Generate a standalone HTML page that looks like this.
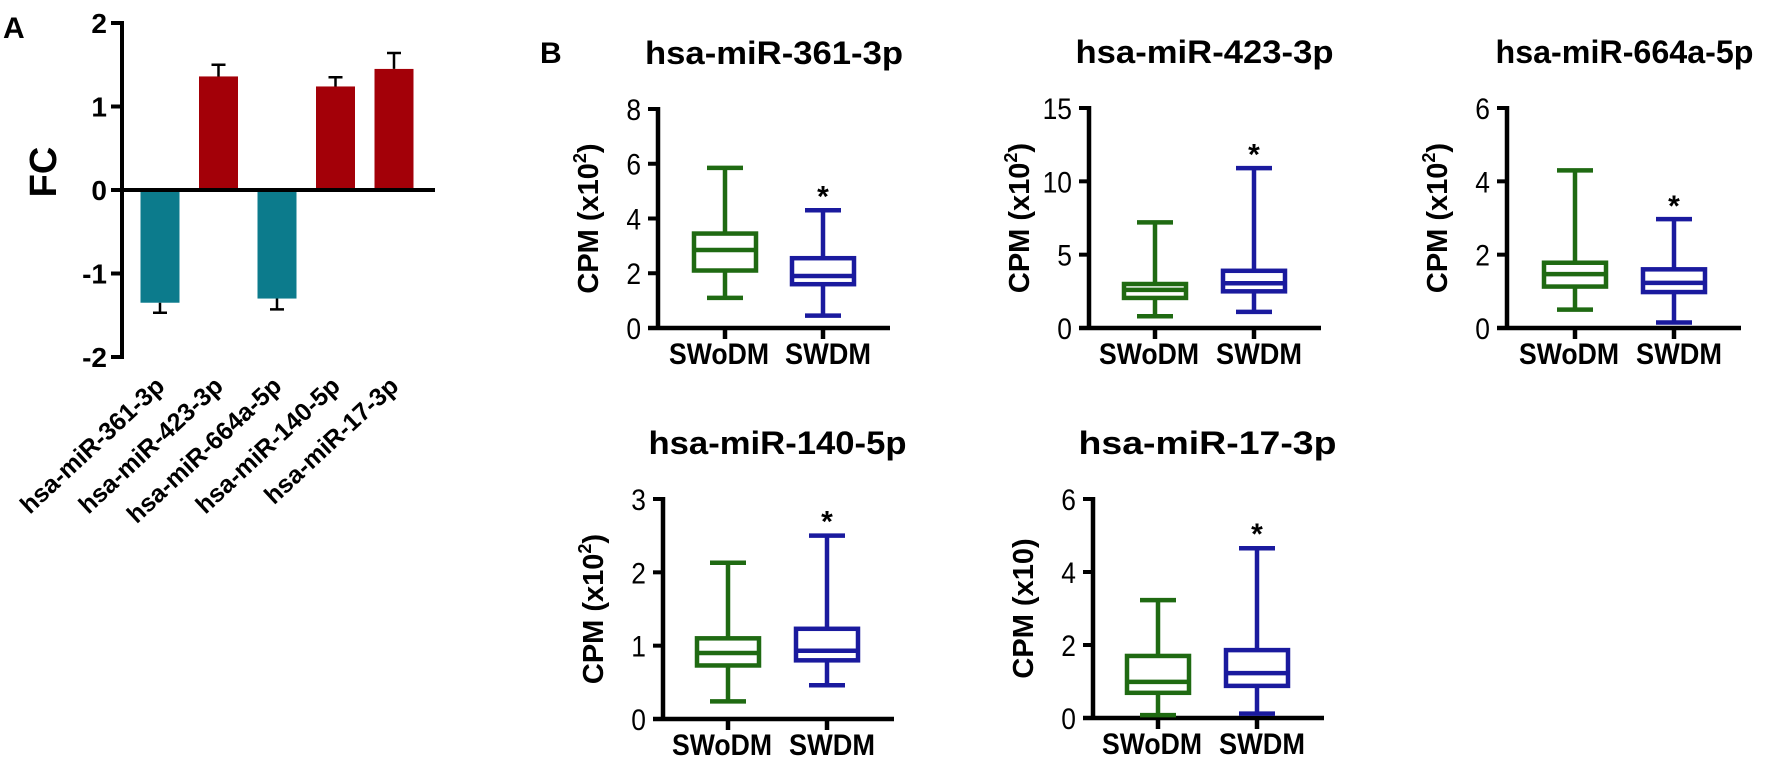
<!DOCTYPE html>
<html><head><meta charset="utf-8">
<style>
html,body{margin:0;padding:0;background:#fff;}
svg{display:block;font-family:"Liberation Sans",Arial,sans-serif;}
</style></head>
<body>
<svg id="fig" width="1772" height="764" viewBox="0 0 1772 764">
<text x="3" y="38" font-size="30" font-weight="bold">A</text>
<text x="540" y="63" font-size="30" font-weight="bold">B</text>
</svg>
<script>
// Panel A data
const fcCategories = ["hsa-miR-361-3p","hsa-miR-423-3p","hsa-miR-664a-5p","hsa-miR-140-5p","hsa-miR-17-3p"];
const fcValues = [-1.35, 1.36, -1.30, 1.24, 1.45];
const fcErrors = [0.12, 0.14, 0.13, 0.11, 0.19];
const fcTicks = [2, 1, 0, -1, -2];

// Panel B data
const boxTitles = ["hsa-miR-361-3p","hsa-miR-423-3p","hsa-miR-664a-5p","hsa-miR-140-5p","hsa-miR-17-3p"];
const boxGroups = ["SWoDM","SWDM"];
const boxYMax = [8, 15, 6, 3, 6];
const boxTicks = [[0,2,4,6,8],[0,5,10,15],[0,2,4,6],[0,1,2,3],[0,2,4,6]];
const boxUnits = ["2","2","2","2",""];
// each: [whiskerLow, q1, median, q3, whiskerHigh]
const swodmStats = [[1.1,2.1,2.85,3.45,5.85],[0.8,2.05,2.6,3.0,7.2],[0.5,1.13,1.47,1.78,4.3],[0.24,0.73,0.9,1.1,2.13],[0.08,0.69,0.99,1.7,3.23]];
const swdmStats = [[0.45,1.6,1.9,2.55,4.3],[1.1,2.5,3.05,3.9,10.9],[0.15,0.98,1.23,1.6,2.97],[0.46,0.8,0.93,1.23,2.5],[0.12,0.88,1.23,1.86,4.65]];
const starValues = [4.95, 12.1, 3.44, 2.75, 5.15];

const NS = "http://www.w3.org/2000/svg";
const svg = document.getElementById("fig");
function mk(tag, attrs, parent){
  const e = document.createElementNS(NS, tag);
  for (const k in attrs) e.setAttribute(k, attrs[k]);
  (parent||svg).appendChild(e);
  return e;
}

// ---------- Panel A ----------
(function(){
  const axX = 122, y0 = 190, ppu = 83.5;
  const yA = v => y0 - v*ppu;
  const g = mk("g", {});
  
  
  const ax = mk("line", {x1:axX, y1:yA(2)-2, x2:axX, y2:yA(-2)+2, stroke:"#000","stroke-width":4}, g);
  
  
  fcTicks.forEach(t=>{
    mk("line", {x1:axX-11, y1:yA(t), x2:axX, y2:yA(t), stroke:"#000","stroke-width":4}, g);
    const tl = mk("text", {x:axX-15, y:yA(t)+10, "font-size":28, "font-weight":"bold", "text-anchor":"end"}, g);
    tl.textContent = t;
    
    
  });
  const yl = mk("text", {x:0, y:0, "font-size":38, "font-weight":"bold", "text-anchor":"middle", transform:"translate(56,172) rotate(-90)"}, g);
  yl.textContent = "FC";
  
  
  const step = 58.5, first = 160, bw = 39;
  fcValues.forEach((v,i)=>{
    const cx = first + i*step;
    const col = v < 0 ? "#0c7b8c" : "#a30008";
    const top = Math.min(yA(0), yA(v)), h = Math.abs(yA(v)-yA(0));
    const r = mk("rect", {x:cx-bw/2, y:top, width:bw, height:h, fill:col}, g);
    
    
    const ev = v < 0 ? v - fcErrors[i] : v + fcErrors[i];
    const eb = mk("path", {d:`M${cx} ${yA(v)} L${cx} ${yA(ev)} M${cx-7} ${yA(ev)} L${cx+7} ${yA(ev)}`, stroke:"#000","stroke-width":2.5, fill:"none"}, g);
    
    
    const lb = mk("text", {x:0, y:0, "font-size":25, "font-weight":"bold", "text-anchor":"end", transform:`translate(${cx+6},${388}) rotate(-43)`}, g);
    lb.textContent = fcCategories[i];
    
    
  });
  const zl = mk("line", {x1:axX, y1:y0, x2:435, y2:y0, stroke:"#000","stroke-width":4}, g);
  
  
})();

// ---------- Panel B ----------
const layout = [
  {ax:658, top:109, bot:328, c1:725, c2:823},
  {ax:1089, top:108, bot:328, c1:1155, c2:1254},
  {ax:1507, top:108, bot:328, c1:1575, c2:1674},
  {ax:663, top:499, bot:719, c1:728, c2:827},
  {ax:1093, top:499, bot:718, c1:1158, c2:1257}
];
const colors = ["#1f6a12", "#1a1a9e"];
boxTitles.forEach((title, p)=>{
  const L = layout[p];
  const ys = v => L.bot - v/boxYMax[p]*(L.bot-L.top);
  const g = mk("g", {});
  
  
  const mid = (L.c1+L.c2)/2;
  const tt = mk("text", {x:mid, y:L.top-45, "font-size":32, "font-weight":"bold", "text-anchor":"middle", textLength:258, lengthAdjust:"spacingAndGlyphs"}, g);
  tt.textContent = title;
  
  
  mk("line", {x1:L.ax, y1:L.top-2, x2:L.ax, y2:L.bot, stroke:"#000","stroke-width":4.5}, g);
  mk("line", {x1:L.ax-10, y1:L.bot, x2:L.c2+67, y2:L.bot, stroke:"#000","stroke-width":4.5}, g);
  boxTicks[p].forEach(t=>{
    mk("line", {x1:L.ax-10, y1:ys(t), x2:L.ax, y2:ys(t), stroke:"#000","stroke-width":4}, g);
    const tl = mk("text", {x:L.ax-17, y:ys(t)+11, "font-size":30, "text-anchor":"end", transform:`translate(${(L.ax-17)*0.12},0) scale(0.88,1)`}, g);
    tl.textContent = t;
    
    
  });
  const ylab = mk("text", {x:0, y:0, "font-size":29, "font-weight":"bold", "text-anchor":"middle", transform:`translate(${L.ax-60},${(L.top+L.bot)/2}) rotate(-90)`}, g);
  ylab.textContent = "CPM (x10";
  if (boxUnits[p]) {
    const sup = mk("tspan", {"font-size":18, dy:-12}, ylab);
    sup.textContent = boxUnits[p];
    const cl = mk("tspan", {dy:12}, ylab);
    cl.textContent = ")";
  } else {
    ylab.textContent = "CPM (x10)";
  }
  
  
  [swodmStats[p], swdmStats[p]].forEach((s, k)=>{
    const cx = k===0 ? L.c1 : L.c2, hw = 31, cap = 18;
    const col = colors[k];
    const bg = mk("g", {stroke:col, "stroke-width":4.5, fill:"none"}, g);
    
    
    mk("line", {x1:cx, y1:ys(s[0]), x2:cx, y2:ys(s[1])}, bg);
    mk("line", {x1:cx, y1:ys(s[3]), x2:cx, y2:ys(s[4])}, bg);
    mk("line", {x1:cx-cap, y1:ys(s[0]), x2:cx+cap, y2:ys(s[0])}, bg);
    mk("line", {x1:cx-cap, y1:ys(s[4]), x2:cx+cap, y2:ys(s[4])}, bg);
    mk("rect", {x:cx-hw, y:ys(s[3]), width:hw*2, height:ys(s[1])-ys(s[3])}, bg);
    mk("line", {x1:cx-hw, y1:ys(s[2]), x2:cx+hw, y2:ys(s[2])}, bg);
    mk("line", {x1:cx, y1:L.bot, x2:cx, y2:L.bot+11, stroke:"#000", "stroke-width":4.5}, g);
    const xl = mk("text", {x: k===0 ? cx-6 : cx+5, y:L.bot+36, "font-size":30, "font-weight":"bold", "text-anchor":"middle", textLength: k===0?100:86, lengthAdjust:"spacingAndGlyphs"}, g);
    xl.textContent = boxGroups[k];
    
    
  });
  const st = mk("text", {x:L.c2, y:ys(starValues[p])+14, "font-size":30, "font-weight":"bold", "text-anchor":"middle"}, g);
  st.textContent = "*";
  
  
});
</script>
</body></html>
